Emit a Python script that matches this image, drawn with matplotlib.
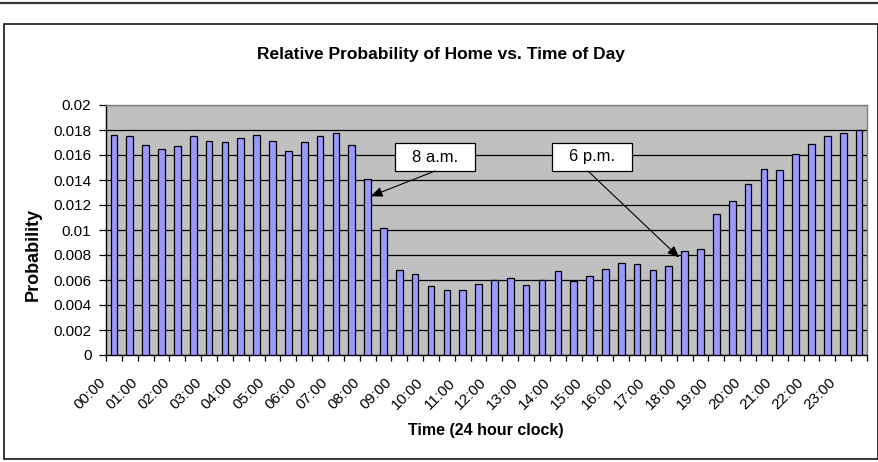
import matplotlib
matplotlib.use("Agg")
import matplotlib.pyplot as plt
from matplotlib.patches import Rectangle
from matplotlib.lines import Line2D
import matplotlib.transforms as mtransforms

plt.rcParams['font.family'] = ['Liberation Sans', 'DejaVu Sans']

# Half-hour slots across the day
hour_labels = ["%02d:00" % h for h in range(24)]
probability = [
    0.0176, 0.0175, 0.0168, 0.0165, 0.0167, 0.0175, 0.0171, 0.0170,
    0.0174, 0.0176, 0.0171, 0.0163, 0.0170, 0.0175, 0.0178, 0.0168,
    0.0141, 0.0102, 0.0068, 0.0065, 0.0055, 0.0052, 0.0052, 0.0057,
    0.0060, 0.0062, 0.0056, 0.0060, 0.0067, 0.0059, 0.0063, 0.0069,
    0.0074, 0.0073, 0.0068, 0.0071, 0.0083, 0.0085, 0.0113, 0.0123,
    0.0137, 0.0149, 0.0148, 0.0161, 0.0169, 0.0175, 0.0178, 0.0180,
]
y_ticks = [0, 0.002, 0.004, 0.006, 0.008, 0.01, 0.012, 0.014, 0.016, 0.018, 0.02]
y_tick_labels = ["0", "0.002", "0.004", "0.006", "0.008", "0.01",
                 "0.012", "0.014", "0.016", "0.018", "0.02"]

# Callouts: label, arrow tip (slot, height), box extent (x0, x1, y0, y1), arrow start slot
callouts = [
    ("8 a.m.", 16.2, 0.0127, (17.73, 22.78, 0.01472, 0.01696), 20.25),
    ("6 p.m.", 35.65, 0.0078, (27.64, 32.69, 0.01472, 0.01696), 29.9),
]

W, H = 879, 462
fig = plt.figure(figsize=(W / 100, H / 100), dpi=100)
fig.patch.set_facecolor("white")

# Outer chart frame and top rule
fig.add_artist(Rectangle((4.5 / W, 1 - 459 / H), (878 - 4.5) / W, (459 - 24) / H,
                         transform=fig.transFigure, fill=False,
                         edgecolor="black", linewidth=1.1))
fig.add_artist(Line2D([0, 1], [1 - 3.3 / H, 1 - 3.3 / H], transform=fig.transFigure,
                      color="#333333", linewidth=1.6))

ax = fig.add_axes([106 / W, 1 - 355 / H, (867 - 106) / W, 250 / H])
ax.set_facecolor("#C0C0C0")

x = list(range(len(probability)))
ax.bar(x, probability, width=0.42, color="#9999FF", edgecolor="black",
       linewidth=0.9, zorder=3)

ax.set_xlim(-0.5, len(probability) - 0.5)
ax.set_ylim(0, 0.02)
ax.set_yticks(y_ticks)
ax.set_yticklabels(y_tick_labels)
ax.yaxis.grid(True, color="black", linewidth=0.9, zorder=1)
ax.set_axisbelow(True)

# Ticks at slot boundaries, labels under each full hour
ax.set_xticks([i - 0.5 for i in range(len(probability) + 1)], minor=True)
ax.set_xticks(list(range(0, len(probability), 2)))
ax.set_xticklabels(hour_labels, rotation=45, ha="right", va="center",
                   rotation_mode="anchor")
ax.tick_params(axis="x", which="major", length=0, pad=18.5, labelsize=11)
ax.tick_params(axis="x", which="minor", length=4, width=0.9, direction="out")
ax.tick_params(axis="y", length=5, width=0.9, pad=5.5, labelsize=11)
shift = mtransforms.ScaledTranslation(-10 / 100, 0, fig.dpi_scale_trans)
for lbl in ax.get_xticklabels():
    lbl.set_transform(lbl.get_transform() + shift)

for side in ("top", "right"):
    ax.spines[side].set_color("#808080")
    ax.spines[side].set_linewidth(1.0)
for side in ("left", "bottom"):
    ax.spines[side].set_color("black")
    ax.spines[side].set_linewidth(1.0)

for text, tip_x, tip_y, (bx0, bx1, by0, by1), start_x in callouts:
    ax.add_patch(Rectangle((bx0, by0), bx1 - bx0, by1 - by0, facecolor="white",
                           edgecolor="black", linewidth=0.9, zorder=5))
    ax.text((bx0 + bx1) / 2, (by0 + by1) / 2, text, ha="center", va="center",
            fontsize=12, zorder=6)
    ax.annotate("", xy=(tip_x, tip_y), xytext=(start_x, by0),
                arrowprops=dict(arrowstyle="-|>,head_length=0.7,head_width=0.3",
                                color="black", linewidth=0.8,
                                shrinkA=0, shrinkB=0), zorder=6)

fig.text(441 / W, 1 - 54 / H, "Relative Probability of Home vs. Time of Day",
         ha="center", va="center", fontsize=12.5, fontweight="bold")
fig.text(33 / W, 1 - 254 / H, "Probability", ha="center", va="center",
         rotation=90, fontsize=13, fontweight="bold")
fig.text(486 / W, 1 - 431 / H, "Time (24 hour clock)", ha="center", va="center",
         fontsize=11.5, fontweight="bold")

fig.savefig("out.png", dpi=100, facecolor="white")
